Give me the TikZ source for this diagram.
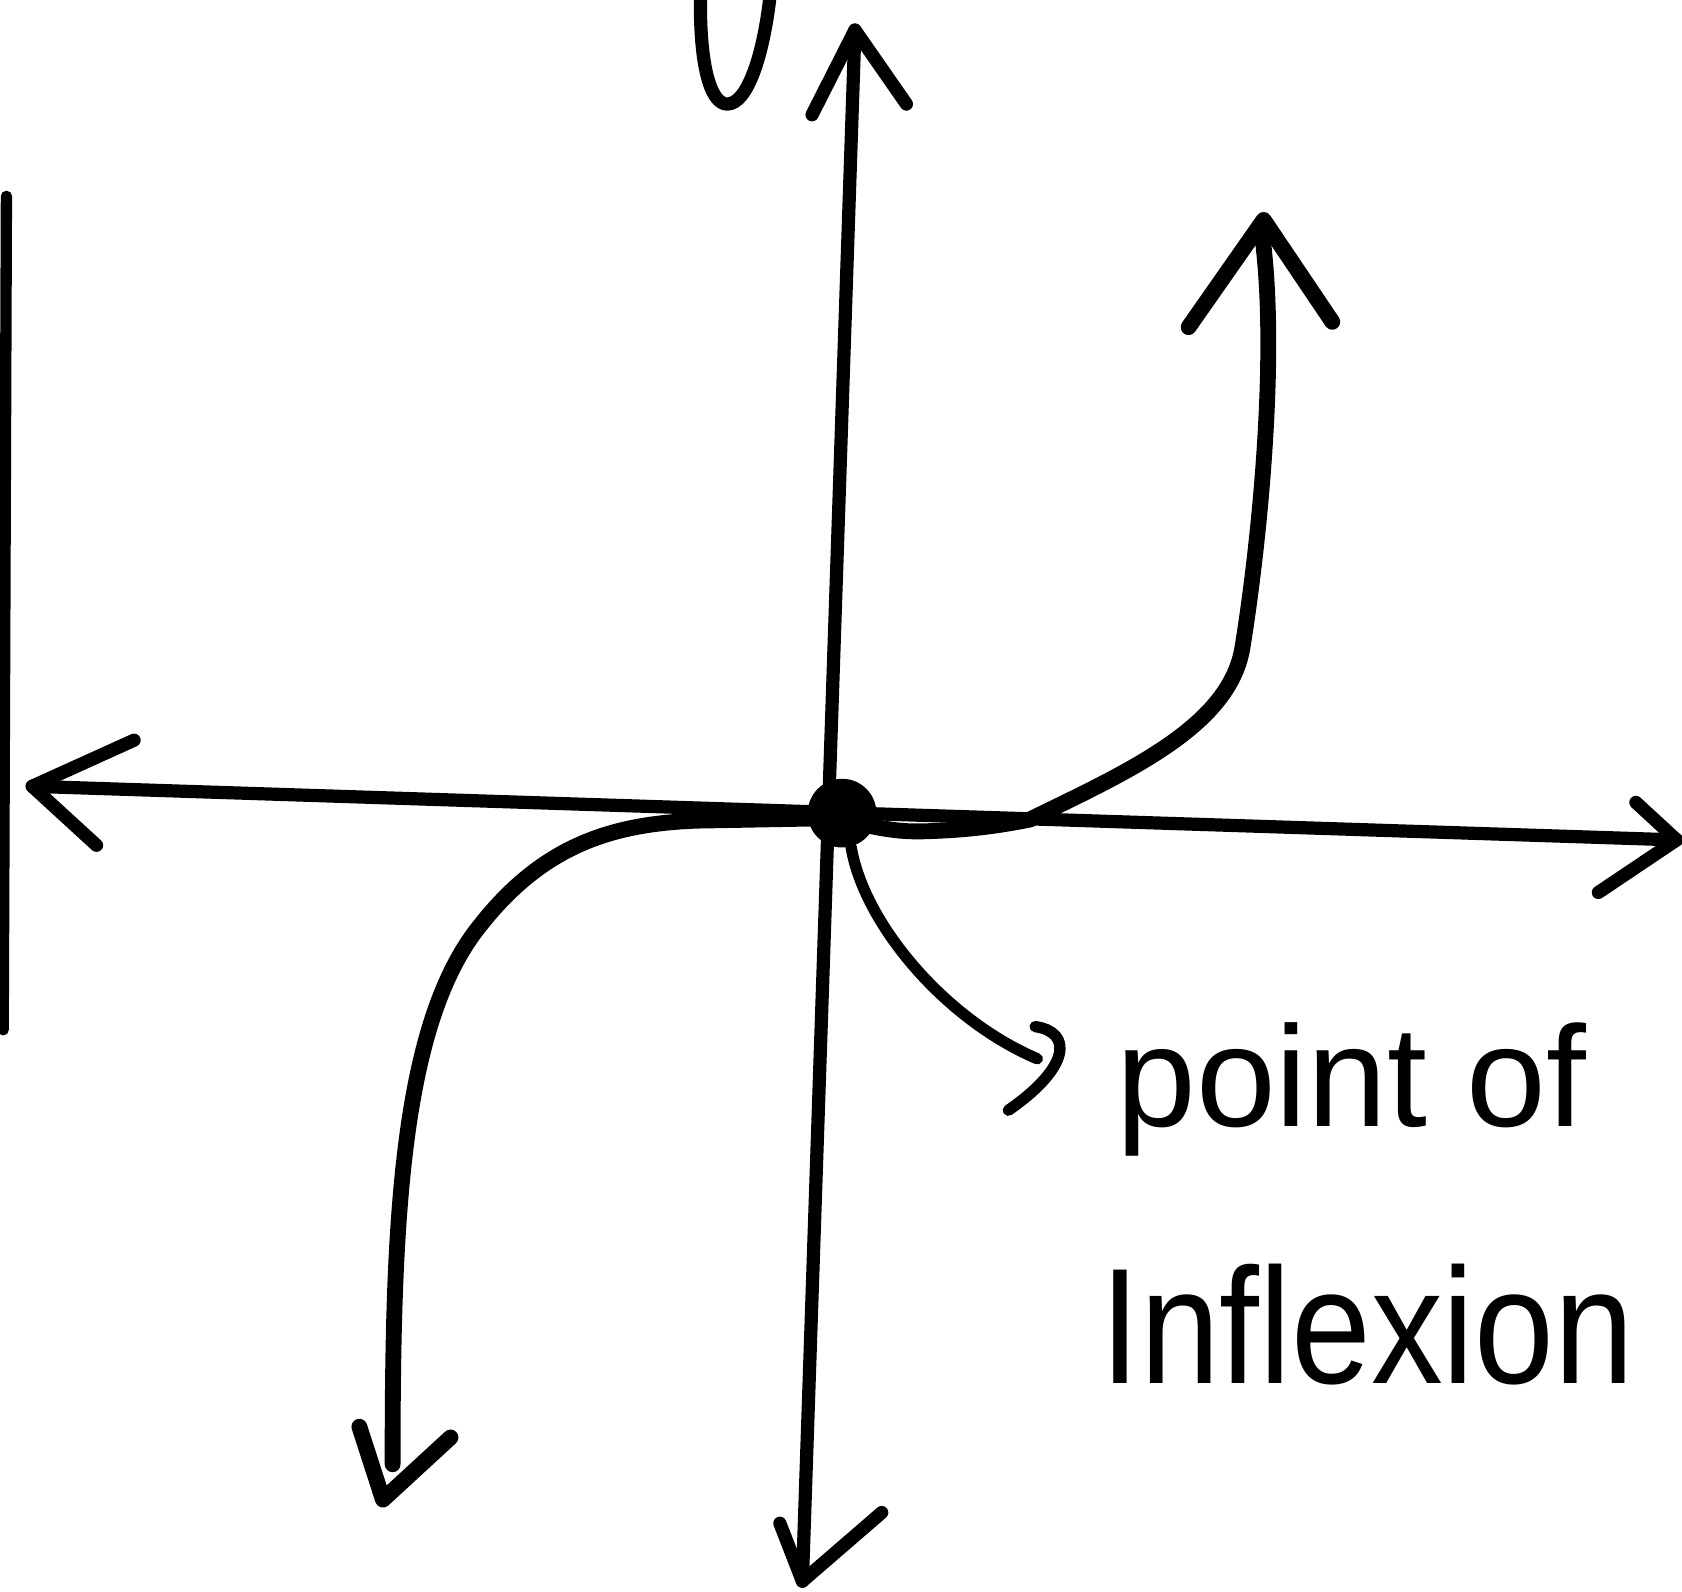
\documentclass[tikz,border=0pt]{standalone}
\usepackage{graphicx}
\usepackage{fontspec}
\setmainfont{Liberation Sans}
\begin{document}
\begin{tikzpicture}[x=0.01cm,y=-0.01cm,
  ink/.style={line width=3.5pt,line cap=round,line join=round},
  curveink/.style={line width=4.2pt,line cap=round,line join=round},
  lbl/.style={inner sep=0pt,anchor=base west,font=\fontsize{38}{40}\selectfont}]
\useasboundingbox (0,0) rectangle (1568,1484);
% axes
\coordinate (ytop) at (797,28);
\coordinate (ybot) at (748,1474);
\coordinate (xl) at (30,733);
\coordinate (xr) at (1563,783);
\draw[ink] (ybot) -- (ytop);
\draw[ink] (xl) -- (xr);
\draw[ink] (757,107) -- (ytop) -- (845,97);
\draw[ink] (727,1420) -- (ybot) -- (822,1410);
\draw[ink] (125,690) -- (xl) -- (90,788);
\draw[ink] (1525,748) -- (xr) -- (1490,832);
% left edge line
\draw[ink,line width=3pt] (6,183) -- (3,960);
% partial letter at top
\draw[ink] (653,-5) .. controls (652,60) and (662,97) .. (678,97) .. controls (697,97) and (712,50) .. (718,-5);
% curve
\draw[curveink] (366,1365) .. controls (366,1150) and (372,960) .. (445,866)
  .. controls (505,788) and (570,768) .. (650,765)
  -- (760,763) .. controls (800,764) and (820,776) .. (860,775)
  .. controls (900,774) and (930,770) .. (960,764)
  .. controls (1050,720) and (1145,678) .. (1158,605)
  .. controls (1172,520) and (1192,340) .. (1177,222);
\draw[curveink] (1108,305) -- (1178,205) -- (1242,300);
\draw[curveink] (335,1330) -- (357,1398) -- (420,1340);
% origin dot
\node[circle,fill,inner sep=0pt,minimum size=0.64cm] (P) at (785,758) {};
% pointer
\coordinate (ptr) at (967,987);
\draw[ink,line width=3pt] (P.-75) .. controls (805,860) and (880,950) .. (ptr);
\draw[ink,line width=3pt] (965,957) .. controls (1000,962) and (998,995) .. (940,1035);
% labels
\node[lbl] (lbl1) at (1040,1050) {point of};
\node[lbl] (lbl2) at (1025,1290) {\scalebox{1}[1.15]{Inflexion}};
\end{tikzpicture}
\end{document}
